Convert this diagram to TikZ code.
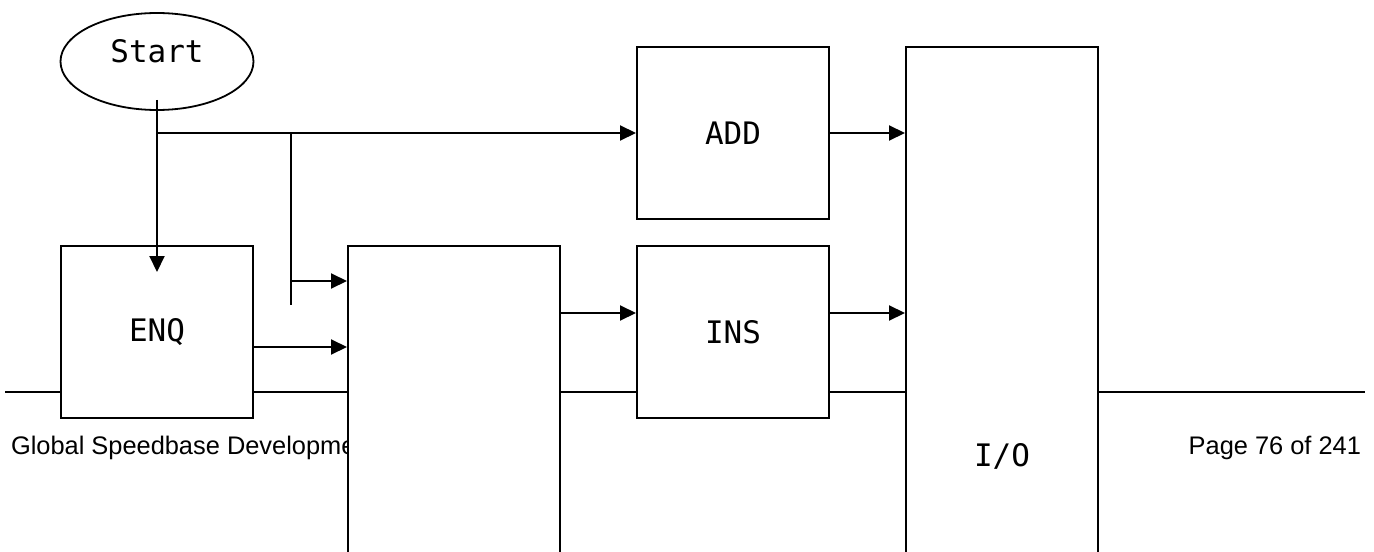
\documentclass[tikz,border=0pt]{standalone}
\usepackage{fontspec}
\setmainfont{Liberation Sans}
\newfontfamily\boxfont{DejaVu Sans Mono}
\usetikzlibrary{arrows.meta,shapes.geometric}
\begin{document}
\begin{tikzpicture}
[x=0.5pt, y=-0.5pt, line width=1pt,
font=\boxfont\fontsize{15.5}{18}\selectfont,
blk/.style={rectangle, draw, fill=white, inner sep=0pt, minimum width=96pt, minimum height=86pt},
tall/.style={rectangle, draw, fill=white, inner sep=0pt},
arr/.style={-{Triangle[length=8pt, width=7.5pt]}},
foot/.style={font=\fontsize{12.7}{15}\selectfont, inner sep=0pt, anchor=base west}]

\useasboundingbox (0,0) rectangle (1374,551);
\clip (0,0) rectangle (1374,551);

% page footer behind the chart
\coordinate (ruleL) at (5,392);
\coordinate (ruleR) at (1365,392);
\draw (ruleL) -- (ruleR);
\node[foot] (footL) at (10,454) {Global Speedbase Development};
\node[foot, anchor=base east] (footR) at (1362,454) {Page 76 of 241};

\node[ellipse, draw, line width=0.9pt, inner sep=0pt, minimum width=96.5pt, minimum height=48.5pt, text depth=11pt] (start) at (157,61.5) {Start};

\node[blk] (enq) at (157,332) {ENQ};
\node[tall, minimum width=106pt, minimum height=227pt] (mid) at (454,473) {};
\node[blk] (add) at (733,133) {ADD};
\node[blk] (ins) at (733,332) {INS};
\node[tall, minimum width=96pt, minimum height=409pt] (io) at (1002,456) {I/O};

\coordinate (s0) at (157,100);
\coordinate (s1) at (157,272);
\coordinate (b0) at (291,133);
\coordinate (b1) at (291,305);

\draw[arr] (s0) -- (s1);
\draw[arr] (s0 |- add.west) -- (add.west);
\draw (b0) -- (b1);
\draw[arr] (b0 |- 0,281) -- (mid.west |- 0,281);
\draw[arr] (enq.east |- 0,347) -- (mid.west |- 0,347);
\draw[arr] (mid.east |- 0,313) -- (ins.west |- 0,313);
\draw[arr] (add.east) -- (add.east -| io.west);
\draw[arr] (ins.east |- 0,313) -- (io.west |- 0,313);
\end{tikzpicture}
\end{document}
